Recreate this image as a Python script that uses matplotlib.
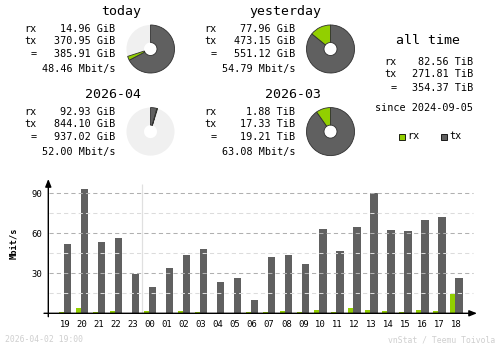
import matplotlib
matplotlib.use("Agg")
import matplotlib.pyplot as plt
from matplotlib.patches import Rectangle

# hourly traffic, last 24 hours (Mbit/s)
hours = ["19", "20", "21", "22", "23", "00", "01", "02", "03", "04", "05", "06",
         "07", "08", "09", "10", "11", "12", "13", "14", "15", "16", "17", "18"]
rx_hourly = [1.0, 4.2, 1.0, 1.7, 0.3, 1.7, 0.3, 1.7, 1.0, 0.3, 0.3, 1.0,
             1.0, 1.7, 1.0, 2.5, 1.0, 4.2, 2.5, 1.7, 1.0, 2.5, 1.7, 14.5]
tx_hourly = [52.0, 93.2, 53.5, 56.5, 29.5, 19.7, 34.0, 43.7, 48.2, 23.5, 26.5, 10.0,
             42.2, 43.7, 37.0, 63.2, 46.7, 64.7, 90.2, 62.5, 61.7, 70.0, 72.2, 26.5]

# summary blocks
block_titles = ["today", "yesterday", "2026-04", "2026-03"]
block_rx = ["14.96 GiB", "77.96 GiB", "92.93 GiB", "1.88 TiB"]
block_tx = ["370.95 GiB", "473.15 GiB", "844.10 GiB", "17.33 TiB"]
block_total = ["385.91 GiB", "551.12 GiB", "937.02 GiB", "19.21 TiB"]
block_rate = ["48.46 Mbit/s", "54.79 Mbit/s", "52.00 Mbit/s", "63.08 Mbit/s"]
# same values in GiB for the pies
pie_rx = [14.96, 77.96, 92.93, 1.88 * 1024]
pie_tx = [370.95, 473.15, 844.10, 17.33 * 1024]

alltime_rx = "82.56 TiB"
alltime_tx = "271.81 TiB"
alltime_total = "354.37 TiB"
alltime_since = "since 2024-09-05"

RX = "#92cf00"
TX = "#606060"
EDGE = "#303030"
W, H = 500, 348
MONO = "DejaVu Sans Mono"
BODY = 7.3
TITLE = 9.5

fig = plt.figure(figsize=(W / 100, H / 100), dpi=100)
fig.patch.set_facecolor("white")


def ftext(x, y, s, **kw):
    kw.setdefault("family", MONO)
    kw.setdefault("va", "center")
    fig.text(x / W, 1 - y / H, s, **kw)


# text blocks + pies
for k in range(4):
    dx = 180 * (k % 2)
    dy = 82.6 * (k // 2)
    ftext(141.5 + dx, 12 + dy, block_titles[k], ha="right", size=TITLE)
    for lab, val, y in (("rx", block_rx[k], 29.3), ("tx", block_tx[k], 41.3),
                        ("=", block_total[k], 54)):
        ftext(37 + dx, y + dy, lab, ha="right", size=BODY)
        ftext(115 + dx, y + dy, val, ha="right", size=BODY)
    ftext(115 + dx, 69 + dy, block_rate[k], ha="right", size=BODY)

    # pie scaled against the larger of the pair (today/yesterday, month/month)
    pair = (k // 2) * 2
    top = max(pie_rx[pair] + pie_tx[pair], pie_rx[pair + 1] + pie_tx[pair + 1])
    rest = top - pie_rx[k] - pie_tx[k]
    cx, cy, r = 150.5 + dx, 49 + dy, 24.5
    pax = fig.add_axes([(cx - r) / W, 1 - (cy + r) / H, 2 * r / W, 2 * r / H])
    pax.pie([1], colors=["#f0f0f0"], radius=1,
            wedgeprops=dict(width=0.73, edgecolor="none"))
    wedges, _ = pax.pie([pie_tx[k], pie_rx[k], rest], colors=[TX, RX, "none"],
                        startangle=90, counterclock=False, radius=1,
                        wedgeprops=dict(width=0.73, edgecolor=EDGE, linewidth=0.6))
    wedges[2].set_edgecolor("none")
    pax.set_xlim(-1.02, 1.02)
    pax.set_ylim(-1.02, 1.02)
    pax.set_aspect("equal")
    pax.axis("off")

# all time block
ftext(428.5, 40, "all time", ha="center", size=TITLE)
for lab, val, y in (("rx", alltime_rx, 62), ("tx", alltime_tx, 74), ("=", alltime_total, 88)):
    ftext(396.5, y, lab, ha="right", size=BODY)
    ftext(473, y, val, ha="right", size=BODY)
ftext(473, 108, alltime_since, ha="right", size=BODY)

# legend
for x0, col, lab in ((399, RX, "rx"), (441, TX, "tx")):
    fig.patches.append(Rectangle((x0 / W, 1 - 139.5 / H), 5.5 / W, 5.5 / H,
                                 transform=fig.transFigure, facecolor=col,
                                 edgecolor="black", linewidth=0.6))
    ftext(x0 + 8, 136.5, lab, ha="left", size=BODY)

# hourly bar chart
slot, c0 = 17.02, 65.0
base, ppm = 313.3, 120 / 90.0
xl = ((44 - c0) / slot, (477 - c0) / slot)
yl = (-(316.7 - base) / ppm, (base - 179) / ppm)
ax = fig.add_axes([44 / W, 1 - 316.7 / H, (477 - 44) / W, (316.7 - 179) / H])
ax.set_xlim(*xl)
ax.set_ylim(*yl)
for s in ax.spines.values():
    s.set_visible(False)
ax.patch.set_alpha(0)

gx0, gx1 = (49 - c0) / slot, (472.5 - c0) / slot
ax.hlines([15, 45, 75], gx0, gx1, colors="#dcdcdc", linewidth=0.75, linestyles=(0, (4, 3)))
ax.hlines([30, 60, 90], gx0, gx1, colors="#b0b0b0", linewidth=0.75, linestyles=(0, (4, 3)))
ax.vlines(4.5, 0, (base - 184) / ppm, colors="#e0e0e0", linewidth=0.9)

idx = range(len(hours))
ax.bar([i - 4 / slot for i in idx], rx_hourly, width=5 / slot, color=RX, linewidth=0)
ax.bar([i + 2.35 / slot for i in idx], tx_hourly, width=7.7 / slot, color=TX, linewidth=0)

# axes with arrow heads
yx = (48.3 - c0) / slot
ax.annotate("", xy=(xl[1], 0), xytext=(xl[0], 0), annotation_clip=False,
            arrowprops=dict(arrowstyle="-|>,head_length=0.45,head_width=0.18",
                            color="black", lw=1.0, shrinkA=0, shrinkB=0))
ax.annotate("", xy=(yx, yl[1]), xytext=(yx, yl[0]), annotation_clip=False,
            arrowprops=dict(arrowstyle="-|>,head_length=0.45,head_width=0.18",
                            color="black", lw=1.0, shrinkA=0, shrinkB=0))

ax.set_xticks(list(idx))
ax.set_xticklabels(hours, family=MONO, size=6.4)
ax.set_yticks([30, 60, 90])
ax.set_yticklabels(["30", "60", "90"], family=MONO, size=6.4)
ax.tick_params(length=0, pad=1)
ax.tick_params(axis="x", pad=2.5)

ftext(14, 243.5, "Mbit/s", ha="center", rotation=90, size=6.2, weight="bold")

# footer
ftext(5, 340, "2026-04-02 19:00", ha="left", size=5.9, color="#cfcfcf")
ftext(495, 340, "vnStat / Teemu Toivola", ha="right", size=5.9, color="#cfcfcf")

fig.savefig("out.png", dpi=100, facecolor="white")
